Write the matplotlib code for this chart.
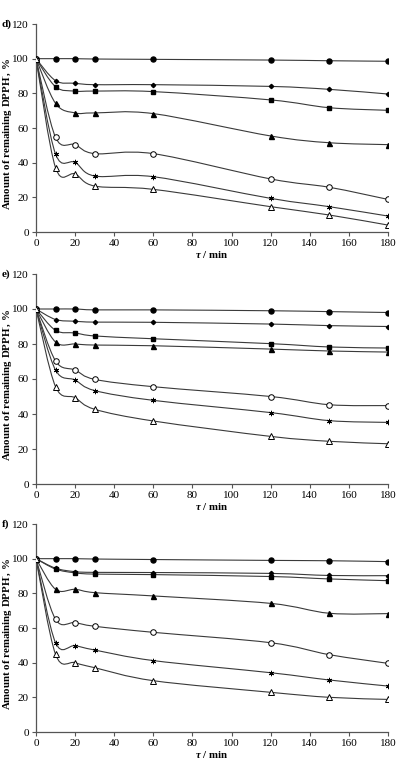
import numpy as np
import matplotlib
matplotlib.use("Agg")
import matplotlib.pyplot as plt
from matplotlib.path import Path
from matplotlib.patches import PathPatch

plt.rcParams['font.family'] = ['Liberation Serif', 'DejaVu Serif']
plt.rcParams['mathtext.fontset'] = 'custom'
plt.rcParams['mathtext.rm'] = 'Liberation Serif'
plt.rcParams['mathtext.it'] = 'Liberation Serif:italic:bold'
plt.rcParams['mathtext.bf'] = 'Liberation Serif:bold'

time_min = [0, 10, 20, 30, 60, 120, 150, 180]
panel_labels = ["d)", "e)", "f)"]

# Panel d
d_filled_circle = [100, 100, 100, 99.8, 99.6, 99.2, 98.8, 98.5]
d_diamond = [100, 87.3, 85.8, 85, 85, 84, 82.3, 79.6]
d_square = [100, 83.8, 81.3, 81.3, 81, 76.2, 71.7, 70.2]
d_filled_triangle = [100, 74.2, 68.7, 68.7, 68.3, 55.4, 51.5, 50.4]
d_open_circle = [100, 54.6, 50.4, 45.2, 45.2, 30.6, 25.8, 18.8]
d_asterisk = [100, 45, 40.2, 32.3, 31.9, 19.4, 14.6, 9.2]
d_open_triangle = [100, 37.1, 33.5, 26.5, 24.6, 14.6, 9.8, 4.0]

# Panel e
e_filled_circle = [100, 100, 100, 99.5, 99.5, 99, 98.5, 98]
e_diamond = [100, 94, 93, 92.5, 92.4, 91.4, 90.5, 90]
e_square = [100, 87.8, 86.3, 84.6, 83, 80.2, 78.3, 77.7]
e_filled_triangle = [100, 81.1, 80, 79.4, 79, 77.1, 76, 75.4]
e_open_circle = [100, 70.3, 65.1, 59.8, 55.6, 50, 45.3, 44.8]
e_asterisk = [100, 65.1, 59.4, 53.4, 47.8, 40.8, 36.2, 35.2]
e_open_triangle = [100, 55.6, 49.3, 42.7, 36, 27.2, 24.4, 23]

# Panel f
f_filled_circle = [100, 100, 100, 99.8, 99.5, 99, 98.8, 98.3]
f_diamond = [100, 94.5, 92.5, 92.1, 92, 91.5, 90.3, 90.2]
f_square = [100, 94, 91.8, 91.1, 90.8, 89.7, 88.3, 87.3]
f_filled_triangle = [100, 82.3, 82.3, 80.4, 78.5, 74.2, 68.5, 68.3]
f_open_circle = [100, 65, 63.1, 61, 57.5, 51.5, 44.6, 39.6]
f_asterisk = [100, 51.5, 49.8, 47.3, 41.2, 34.2, 30, 26.5]
f_open_triangle = [100, 44.8, 40, 37.1, 29.6, 22.9, 20, 18.8]

panels = [
    [d_filled_circle, d_diamond, d_square, d_filled_triangle, d_open_circle, d_asterisk, d_open_triangle],
    [e_filled_circle, e_diamond, e_square, e_filled_triangle, e_open_circle, e_asterisk, e_open_triangle],
    [f_filled_circle, f_diamond, f_square, f_filled_triangle, f_open_circle, f_asterisk, f_open_triangle],
]

styles = [
    dict(marker='o', ms=3.6, mfc='black', mec='black'),
    dict(marker='D', ms=2.2, mfc='black', mec='black'),
    dict(marker='s', ms=3.4, mfc='black', mec='black'),
    dict(marker='^', ms=3.6, mfc='black', mec='black'),
    dict(marker='o', ms=4.0, mfc='white', mec='black', mew=0.7),
    dict(marker=(6, 2, 0), ms=3.8, mfc='black', mec='black', mew=0.7),
    dict(marker='^', ms=4.0, mfc='white', mec='black', mew=0.7),
]


def smooth_path(x, y):
    x = np.asarray(x, float)
    y = np.asarray(y, float)
    n = len(x)
    verts = [(x[0], y[0])]
    codes = [Path.MOVETO]
    for i in range(n - 1):
        i0 = max(i - 1, 0)
        i3 = min(i + 2, n - 1)
        c1 = (x[i] + (x[i + 1] - x[i0]) / 6.0, y[i] + (y[i + 1] - y[i0]) / 6.0)
        c2 = (x[i + 1] - (x[i3] - x[i]) / 6.0, y[i + 1] - (y[i3] - y[i]) / 6.0)
        verts += [c1, c2, (x[i + 1], y[i + 1])]
        codes += [Path.CURVE4, Path.CURVE4, Path.CURVE4]
    return Path(verts, codes)


W, H = 403, 761
fig = plt.figure(figsize=(W / 100, H / 100), dpi=100)

tops = [24, 274, 524]
bottoms = [232, 484, 732]
left_px, right_px = 36, 388

for k, series in enumerate(panels):
    ax = fig.add_axes([left_px / W, 1 - bottoms[k] / H,
                       (right_px - left_px) / W, (bottoms[k] - tops[k]) / H])
    ax.set_xlim(0, 180)
    ax.set_ylim(0, 120)
    for vals, st in zip(series, styles):
        patch = PathPatch(smooth_path(time_min, vals), fill=False,
                          edgecolor='#3a3a3a', lw=0.8, zorder=2)
        ax.add_patch(patch)
        ax.plot(time_min, vals, linestyle='none', zorder=3, **st)
    ax.spines['top'].set_visible(False)
    ax.spines['right'].set_visible(False)
    for s in ['left', 'bottom']:
        ax.spines[s].set_color('#555555')
        ax.spines[s].set_linewidth(0.9)
    ax.set_xticks(np.arange(0, 181, 20))
    ax.set_yticks(np.arange(0, 121, 20))
    ax.tick_params(direction='out', length=3, width=0.8, color='#555555',
                   labelsize=8, pad=2)
    ax.set_xlabel(r'$\tau$' + ' / min', fontsize=7.8, fontweight='bold', labelpad=1)
    ax.set_ylabel(r'Amount of remaining DPPH$^{\bullet}$, %', fontsize=7.8,
                  fontweight='bold')
    ax.yaxis.set_label_coords(-0.062, 0.47)
    ax.text(2 / W, 1 - tops[k] / H, panel_labels[k], transform=fig.transFigure,
            fontsize=8, fontweight='bold', ha='left', va='center')

fig.savefig('out.png', dpi=100)
